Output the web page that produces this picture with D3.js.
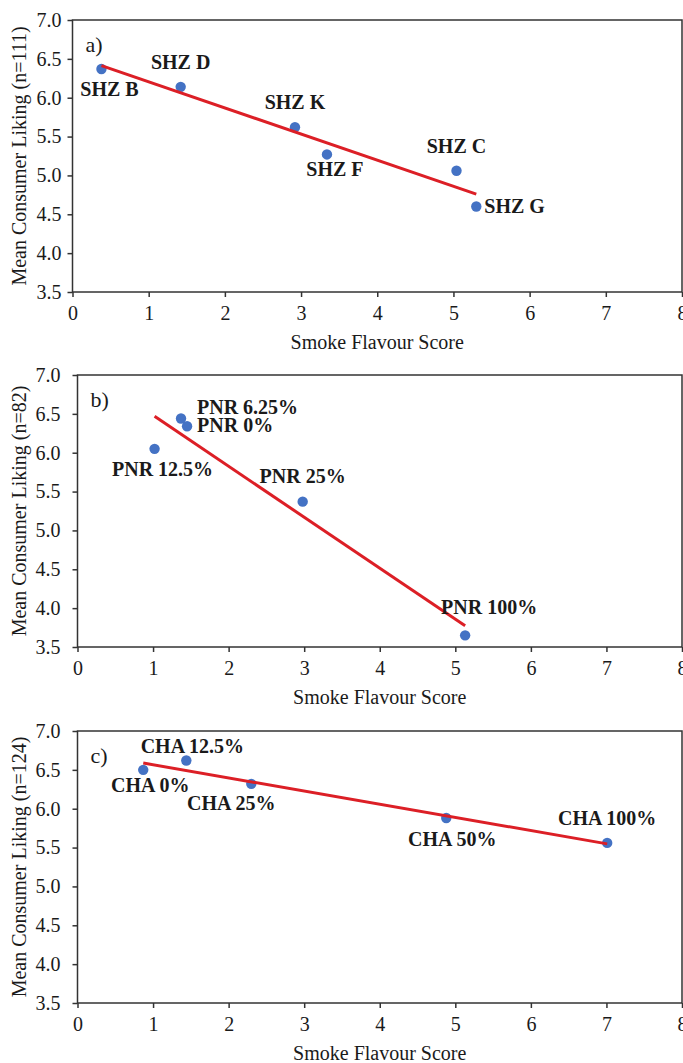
<!DOCTYPE html>
<html lang="en">
<head>
  <meta charset="UTF-8">
  <title>Smoke flavour vs consumer liking</title>
  <script src="https://d3js.org/d3.v7.min.js"></script>
  <style>
    body { margin: 0; background: #fff; }
    text { font-family: "Liberation Serif", "Times New Roman", serif; fill: #1a1a1a; }
    .pt-label { font-weight: bold; }
  </style>
</head>
<body>
<script>
  // axis ticks shared by the three panels
  const xTicks = [0, 1, 2, 3, 4, 5, 6, 7, 8];
  const yTicks = [3.5, 4.0, 4.5, 5.0, 5.5, 6.0, 6.5, 7.0];
  const xTitle = "Smoke Flavour Score";

  // a) SHZ samples
  const shzNames = ["SHZ B", "SHZ D", "SHZ K", "SHZ F", "SHZ C", "SHZ G"];
  const shzSmoke = [0.38, 1.42, 2.92, 3.34, 5.04, 5.30];
  const shzLiking = [6.37, 6.14, 5.62, 5.27, 5.06, 4.60];

  // b) PNR samples
  const pnrNames = ["PNR 6.25%", "PNR 0%", "PNR 12.5%", "PNR 25%", "PNR 100%"];
  const pnrSmoke = [1.37, 1.45, 1.02, 2.98, 5.13];
  const pnrLiking = [6.44, 6.34, 6.05, 5.37, 3.65];

  // c) CHA samples
  const chaNames = ["CHA 0%", "CHA 12.5%", "CHA 25%", "CHA 50%", "CHA 100%"];
  const chaSmoke = [0.87, 1.44, 2.30, 4.88, 7.01];
  const chaLiking = [6.50, 6.62, 6.32, 5.88, 5.56];

  // label placement relative to each point: [anchor, dx, dy] in px
  const shzLabelPos = [["middle", 8, 27], ["middle", 0, -18], ["middle", 0, -18],
                       ["middle", 8, 22], ["middle", 0, -18], ["start", 8, 6]];
  const pnrLabelPos = [["start", 16, -5], ["start", 10, 6], ["middle", 8, 27],
                       ["middle", 0, -19], ["middle", 24, -21]];
  const chaLabelPos = [["middle", 7, 22], ["middle", 6, -8], ["middle", -20, 26],
                       ["middle", 6, 28], ["middle", 0, -18]];

  const W = 683, H = 1063, right = 682;
  const dotColor = "#4472c4", lineColor = "#dc1f26", axisColor = "#333";

  const panels = [
    { letter: "a)", yTitle: "Mean Consumer Liking (n=111)", names: shzNames, xs: shzSmoke, ys: shzLiking,
      pos: shzLabelPos, left: 72.5, top: 20, bottom: 292, gap: 11 },
    { letter: "b)", yTitle: "Mean Consumer Liking (n=82)", names: pnrNames, xs: pnrSmoke, ys: pnrLiking,
      pos: pnrLabelPos, left: 77.5, top: 375, bottom: 647, gap: 17 },
    { letter: "c)", yTitle: "Mean Consumer Liking (n=124)", names: chaNames, xs: chaSmoke, ys: chaLiking,
      pos: chaLabelPos, left: 77.5, top: 731, bottom: 1003, gap: 17 }
  ];

  const svg = d3.select("body").append("svg")
    .attr("width", W)
    .attr("height", H);

  // least squares fit, drawn between the smallest and largest x
  function fit(xs, ys) {
    const mx = d3.mean(xs), my = d3.mean(ys);
    const sxy = d3.sum(xs, (v, i) => (v - mx) * (ys[i] - my));
    const sxx = d3.sum(xs, v => (v - mx) * (v - mx));
    const b = sxy / sxx, a = my - b * mx;
    const [x0, x1] = d3.extent(xs);
    return [[x0, a + b * x0], [x1, a + b * x1]];
  }

  panels.forEach(p => {
    const x = d3.scaleLinear().domain([0, 8]).range([p.left, right]);
    const y = d3.scaleLinear().domain([3.5, 7]).range([p.bottom, p.top]);
    const g = svg.append("g");

    // plot frame
    g.append("rect")
      .attr("x", p.left).attr("y", p.top)
      .attr("width", right - p.left).attr("height", p.bottom - p.top)
      .attr("fill", "none").attr("stroke", axisColor).attr("stroke-width", 1.5);

    const gx = g.append("g")
      .attr("transform", `translate(0,${p.bottom})`)
      .call(d3.axisBottom(x).tickValues(xTicks).tickSize(5).tickPadding(9).tickFormat(d3.format("d")));
    const gy = g.append("g")
      .attr("transform", `translate(${p.left},0)`)
      .call(d3.axisLeft(y).tickValues(yTicks).tickSize(5).tickPadding(p.gap - 5).tickFormat(d3.format(".1f")));

    [gx, gy].forEach(ax => {
      ax.select(".domain").remove();
      ax.selectAll(".tick line").attr("stroke", axisColor).attr("stroke-width", 1.5);
      ax.selectAll(".tick text").attr("font-size", 20).attr("font-family", null).style("fill", "#1a1a1a");
    });

    // axis titles
    g.append("text")
      .attr("x", x(4)).attr("y", p.bottom + 57)
      .attr("text-anchor", "middle").attr("font-size", 20)
      .text(xTitle);
    g.append("text")
      .attr("transform", `translate(26,${(p.top + p.bottom) / 2}) rotate(-90)`)
      .attr("text-anchor", "middle").attr("font-size", 20)
      .text(p.yTitle);

    // panel letter
    g.append("text")
      .attr("x", p.left + 13).attr("y", p.top + 32)
      .attr("font-size", 22)
      .text(p.letter);

    const pts = p.xs.map((v, i) => ({ x: v, y: p.ys[i], name: p.names[i], pos: p.pos[i] }));

    g.selectAll("circle.dot")
      .data(pts)
      .enter().append("circle")
      .attr("class", "dot")
      .attr("cx", d => x(d.x))
      .attr("cy", d => y(d.y))
      .attr("r", 5.2)
      .attr("fill", dotColor);

    g.append("path")
      .datum(fit(p.xs, p.ys))
      .attr("d", d3.line().x(d => x(d[0])).y(d => y(d[1])))
      .attr("stroke", lineColor)
      .attr("stroke-width", 3)
      .attr("fill", "none");

    g.selectAll("text.pt-label")
      .data(pts)
      .enter().append("text")
      .attr("class", "pt-label")
      .attr("x", d => x(d.x) + d.pos[1])
      .attr("y", d => y(d.y) + d.pos[2])
      .attr("text-anchor", d => d.pos[0])
      .attr("font-size", 20)
      .text(d => d.name);
  });
</script>
</body>
</html>
